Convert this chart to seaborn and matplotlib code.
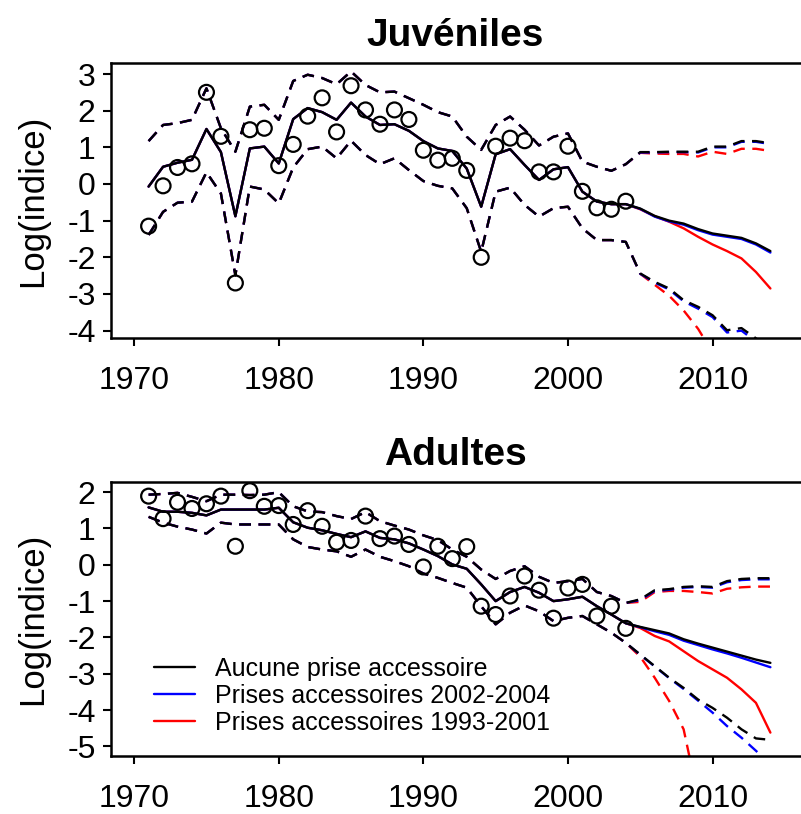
import numpy as np
import pandas as pd
import matplotlib
matplotlib.use("Agg")
import matplotlib.pyplot as plt
import seaborn as sns

sns.set_theme(style="white")
plt.rcParams["font.family"] = ["Liberation Sans", "DejaVu Sans"]
plt.rcParams["text.color"] = "black"
plt.rcParams["axes.labelcolor"] = "black"
plt.rcParams["xtick.color"] = "black"
plt.rcParams["ytick.color"] = "black"

# ---- Years ----
years_hist = list(range(1971, 2005))          # fitted period
years_proj = list(range(2004, 2015))          # projections (start at last fitted year)
years_obs = list(range(1971, 2005))

# ---- Juvéniles ----
juv_obs = [-1.15, -0.05, 0.45, 0.55, 2.5, 1.3, -2.7, 1.48, 1.52, 0.5, 1.08, 1.85, 2.35, 1.42, 2.68,
           2.02, 1.63, 2.02, 1.76, 0.92, 0.65, 0.7, 0.37, -2.0, 1.03, 1.25, 1.18, 0.33, 0.33, 1.03,
           -0.2, -0.65, -0.69, -0.47]
juv_fit = [-0.07, 0.47, 0.58, 0.66, 1.5, 0.87, -0.88, 0.97, 1.02, 0.56, 1.77, 2.07, 1.96, 1.75, 2.22,
           1.84, 1.61, 1.63, 1.45, 1.17, 0.97, 0.9, 0.42, -0.62, 0.81, 0.95, 0.52, 0.11, 0.4, 0.46,
           -0.21, -0.48, -0.55, -0.55]
juv_up = [1.17, 1.61, 1.66, 1.75, 2.61, 1.52, 0.88, 2.11, 2.16, 1.75, 2.81, 2.98, 2.89, 2.72, 3.07,
          2.7, 2.5, 2.52, 2.34, 2.16, 1.96, 1.84, 1.29, 0.93, 1.61, 1.84, 1.48, 1.05, 1.29, 1.38,
          0.61, 0.47, 0.36, 0.54]
juv_lo = [-1.39, -0.76, -0.51, -0.48, 0.32, -0.26, -2.49, -0.07, -0.15, -0.53, 0.45, 0.95, 1.02, 0.7, 1.18,
          0.79, 0.54, 0.7, 0.38, 0.08, -0.05, -0.12, -0.66, -1.85, -0.21, -0.1, -0.57, -0.89, -0.66, -0.62,
          -1.21, -1.53, -1.53, -1.58]

# projections 2004-2014: none / 2002-2004 / 1993-2001 bycatch
juv_proj_fit = {
    "none": [-0.55, -0.67, -0.87, -1.0, -1.08, -1.23, -1.35, -1.41, -1.47, -1.62, -1.83],
    "b0204": [-0.55, -0.68, -0.89, -1.02, -1.11, -1.26, -1.38, -1.44, -1.5, -1.65, -1.87],
    "b9301": [-0.55, -0.69, -0.88, -1.03, -1.21, -1.44, -1.65, -1.83, -2.03, -2.4, -2.85],
}
juv_proj_up = {
    "none": [0.54, 0.87, 0.87, 0.88, 0.88, 0.88, 1.02, 1.02, 1.17, 1.17, 1.11],
    "b0204": [0.54, 0.86, 0.86, 0.87, 0.87, 0.86, 1.0, 1.0, 1.15, 1.15, 1.09],
    "b9301": [0.54, 0.85, 0.83, 0.82, 0.82, 0.75, 0.88, 0.82, 0.96, 0.96, 0.9],
}
juv_proj_lo = {
    "none": [-1.58, -2.44, -2.67, -2.85, -3.17, -3.35, -3.58, -3.99, -3.93, -4.21, -4.5],
    "b0204": [-1.58, -2.45, -2.69, -2.88, -3.2, -3.4, -3.63, -4.05, -4.0, -4.3, -4.6],
    "b9301": [-1.58, -2.45, -2.75, -3.05, -3.45, -3.95, -4.6, -5.3, -6.0, -6.7, -7.4],
}

# ---- Adultes ----
adu_obs = [1.89, 1.27, 1.72, 1.55, 1.68, 1.89, 0.51, 2.04, 1.61, 1.63, 1.11, 1.49, 1.06, 0.62, 0.67,
           1.34, 0.72, 0.79, 0.56, -0.06, 0.51, 0.17, 0.5, -1.14, -1.37, -0.86, -0.31, -0.7, -1.47, -0.64,
           -0.54, -1.41, -1.14, -1.75]
adu_fit = [1.58, 1.46, 1.46, 1.43, 1.36, 1.52, 1.52, 1.52, 1.52, 1.57, 1.17, 1.02, 0.95, 0.85, 0.76,
           0.92, 0.74, 0.7, 0.59, 0.42, 0.24, 0.01, -0.11, -0.54, -1.0, -0.75, -0.61, -0.77, -1.0, -0.95,
           -0.88, -1.14, -1.37, -1.61]
adu_up = [1.93, 1.95, 1.98, 1.87, 1.75, 1.93, 1.93, 1.92, 1.93, 2.0, 1.61, 1.47, 1.45, 1.34, 1.26,
          1.45, 1.2, 1.08, 0.97, 0.81, 0.68, 0.42, 0.22, -0.13, -0.39, -0.17, -0.04, -0.33, -0.5, -0.45,
          -0.39, -0.75, -0.86, -1.05]
adu_lo = [1.32, 1.16, 1.05, 0.97, 0.86, 1.16, 1.11, 1.11, 1.11, 1.11, 0.7, 0.49, 0.42, 0.37, 0.22,
          0.42, 0.22, 0.1, -0.04, -0.24, -0.36, -0.5, -0.63, -1.14, -1.64, -1.32, -1.12, -1.28, -1.55, -1.46,
          -1.41, -1.64, -1.87, -2.15]

adu_proj_fit = {
    "none": [-1.61, -1.71, -1.8, -1.89, -2.05, -2.17, -2.28, -2.39, -2.5, -2.61, -2.7],
    "b0204": [-1.61, -1.72, -1.83, -1.93, -2.09, -2.21, -2.33, -2.44, -2.56, -2.69, -2.82],
    "b9301": [-1.61, -1.74, -1.96, -2.11, -2.38, -2.65, -2.88, -3.11, -3.43, -3.8, -4.62],
}
adu_proj_up = {
    "none": [-1.05, -0.95, -0.7, -0.67, -0.61, -0.59, -0.61, -0.45, -0.39, -0.37, -0.37],
    "b0204": [-1.05, -0.97, -0.72, -0.69, -0.63, -0.61, -0.63, -0.48, -0.42, -0.4, -0.4],
    "b9301": [-1.05, -1.02, -0.75, -0.72, -0.72, -0.75, -0.79, -0.66, -0.62, -0.6, -0.6],
}
adu_proj_lo = {
    "none": [-2.15, -2.47, -2.79, -3.11, -3.39, -3.71, -3.94, -4.21, -4.53, -4.78, -4.82],
    "b0204": [-2.15, -2.48, -2.8, -3.12, -3.42, -3.74, -4.07, -4.44, -4.76, -5.12, -5.5],
    "b9301": [-2.15, -2.53, -3.11, -3.75, -4.53, -6.4, -8.0, -9.5, -11.0, -12.5, -14.0],
}

scenarios = ["none", "b0204", "b9301"]
labels = {"none": "Aucune prise accessoire",
          "b0204": "Prises accessoires 2002-2004",
          "b9301": "Prises accessoires 1993-2001"}
colors = {"none": "black", "b0204": "#0000ff", "b9301": "#ff0000"}
draw_order = ["b9301", "b0204", "none"]

DASH = (0, (5, 3.2))
LW = 1.7


def full(hist, proj):
    return hist + proj[1:]


years_all = years_hist + years_proj[1:]


def panel(ax, title, obs, fit, up, lo, pfit, pup, plo, ylim, yticks):
    for sc in draw_order:
        c = colors[sc]
        df = pd.DataFrame({"year": years_all,
                           "fit": full(fit, pfit[sc]),
                           "up": full(up, pup[sc]),
                           "lo": full(lo, plo[sc])})
        sns.lineplot(data=df, x="year", y="up", ax=ax, color=c, lw=LW, linestyle=DASH,
                     estimator=None, sort=False)
        sns.lineplot(data=df, x="year", y="lo", ax=ax, color=c, lw=LW, linestyle=DASH,
                     estimator=None, sort=False)
        sns.lineplot(data=df, x="year", y="fit", ax=ax, color=c, lw=LW,
                     estimator=None, sort=False, label=labels[sc])
    sns.scatterplot(x=years_obs, y=obs, ax=ax, marker="o", s=115, facecolor="none",
                    edgecolor="black", linewidth=1.6, zorder=5)
    ax.set_xlim(1968.4, 2016.05)
    ax.set_ylim(*ylim)
    ax.set_xticks([1970, 1980, 1990, 2000, 2010])
    ax.set_yticks(yticks)
    ax.set_yticklabels([str(t) for t in yticks])
    ax.set_title(title, fontsize=28, fontweight="bold", pad=12, color="black")
    ax.set_xlabel("")
    ax.set_ylabel("Log(indice)", fontsize=25, labelpad=13)
    ax.tick_params(axis="both", direction="out", length=6, width=1.5, colors="black")
    ax.tick_params(axis="y", labelsize=23, pad=5, left=True)
    ax.tick_params(axis="x", labelsize=23, pad=14, bottom=True)
    for s in ["left", "bottom", "top"]:
        ax.spines[s].set_visible(True)
        ax.spines[s].set_color("black")
        ax.spines[s].set_linewidth(1.8)
    ax.spines["right"].set_visible(False)
    ax.grid(False)


fig = plt.figure(figsize=(8.01, 8.14), dpi=100)
ax1 = fig.add_axes([0.1386, 0.5848, 0.8602, 0.3378])
ax2 = fig.add_axes([0.1386, 0.0710, 0.8602, 0.3369])

panel(ax1, "Juvéniles", juv_obs, juv_fit, juv_up, juv_lo,
      juv_proj_fit, juv_proj_up, juv_proj_lo, (-4.2, 3.3), [3, 2, 1, 0, -1, -2, -3, -4])
panel(ax2, "Adultes", adu_obs, adu_fit, adu_up, adu_lo,
      adu_proj_fit, adu_proj_up, adu_proj_lo, (-5.27, 2.28), [2, 1, 0, -1, -2, -3, -4, -5])

ax1.get_legend().remove()
handles, labs = ax2.get_legend_handles_labels()
order = [labs.index(labels[s]) for s in scenarios]
leg = ax2.legend([handles[i] for i in order], [labs[i] for i in order],
                 loc="lower left", bbox_to_anchor=(0.048, 0.04), frameon=False, fontsize=18,
                 handlelength=1.65, handletextpad=0.8, labelspacing=0.12, borderaxespad=0)
for t in leg.get_texts():
    t.set_color("black")

fig.savefig("out.png", dpi=100)
